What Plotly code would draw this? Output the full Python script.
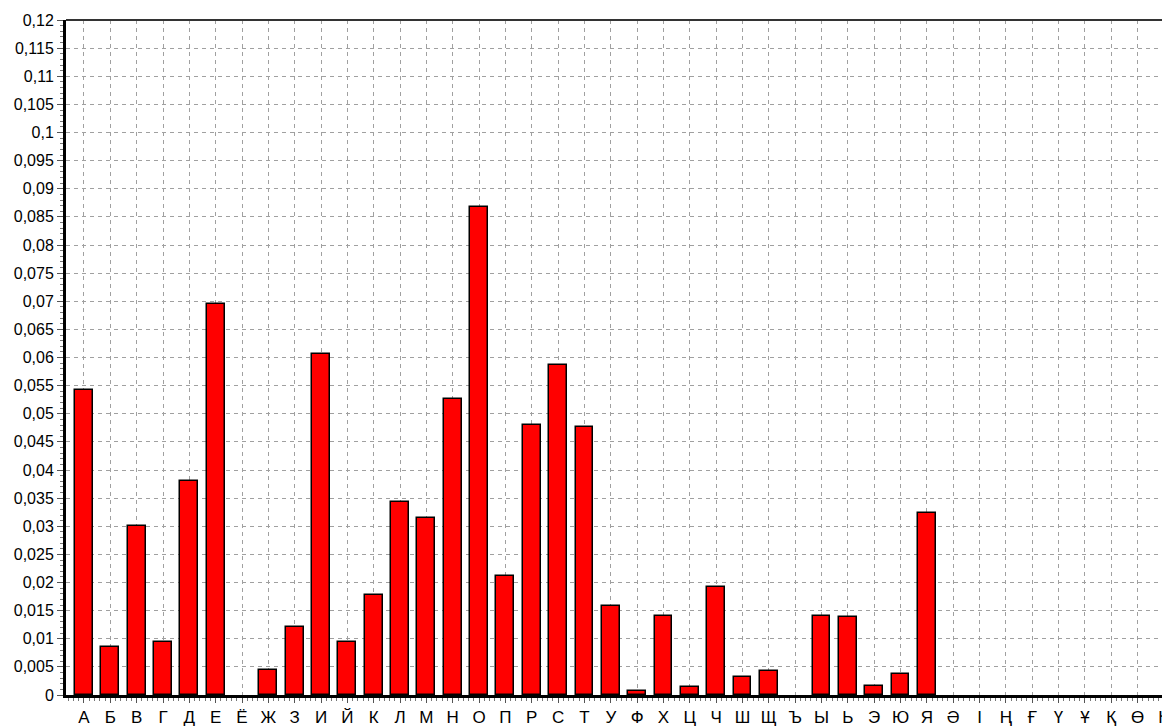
import plotly.graph_objects as go

letters = ["А", "Б", "В", "Г", "Д", "Е", "Ё", "Ж", "З", "И", "Й", "К", "Л", "М", "Н", "О",
           "П", "Р", "С", "Т", "У", "Ф", "Х", "Ц", "Ч", "Ш", "Щ", "Ъ", "Ы", "Ь", "Э", "Ю", "Я",
           "Ә", "І", "Ң", "Ғ", "Ү", "Ұ", "Қ", "Ө", "Һ"]
frequencies = [0.0542, 0.0085, 0.0300, 0.0094, 0.0381, 0.0695, 0.0, 0.0044, 0.0121, 0.0606,
               0.0094, 0.0177, 0.0343, 0.0314, 0.0527, 0.0868, 0.0212, 0.0480, 0.0586, 0.0477,
               0.0159, 0.0008, 0.0141, 0.0014, 0.0192, 0.0032, 0.0043, 0.0, 0.0141, 0.0138,
               0.0016, 0.0038, 0.0323, 0, 0, 0, 0, 0, 0, 0, 0, 0]
y_tick_vals = [i * 0.005 for i in range(25)]
y_tick_text = ["0", "0,005", "0,01", "0,015", "0,02", "0,025", "0,03", "0,035", "0,04",
               "0,045", "0,05", "0,055", "0,06", "0,065", "0,07", "0,075", "0,08", "0,085",
               "0,09", "0,095", "0,1", "0,105", "0,11", "0,115", "0,12"]

positions = list(range(len(letters)))
outline_widths = [1.5 if v > 0 else 0 for v in frequencies]

fig = go.Figure()
fig.add_trace(go.Bar(
    x=positions, y=frequencies, width=0.68,
    marker=dict(color="#ff0000", line=dict(color="#000000", width=outline_widths)),
    hoverinfo="skip",
))

grid_kw = dict(showgrid=True, gridcolor="#a0a0a0", gridwidth=1, griddash="4px,4px")

fig.update_layout(
    width=1162, height=719,
    margin=dict(l=58, r=0, t=12, b=32, autoexpand=False),
    paper_bgcolor="white", plot_bgcolor="white",
    font=dict(family="Liberation Sans, Arial, sans-serif", size=16, color="#000000"),
    showlegend=False,
    bargap=0,
    xaxis=dict(
        range=[-0.683, 41.23], tickmode="array", tickvals=positions, ticktext=letters,
        ticks="outside", ticklen=5, tickwidth=1, tickcolor="#555555",
        minor=dict(dtick=0.2, tick0=0, ticks="outside", ticklen=3, tickcolor="#777777", showgrid=False),
        showline=True, linecolor="#000000", linewidth=2.5, zeroline=False,
        tickfont=dict(size=17), ticklabelstandoff=0, automargin=False, **grid_kw,
    ),
    yaxis=dict(
        range=[0, 0.12], tickmode="array", tickvals=y_tick_vals, ticktext=y_tick_text,
        ticks="outside", ticklen=6, tickwidth=1, tickcolor="#555555",
        minor=dict(dtick=0.001, tick0=0, ticks="outside", ticklen=3, tickcolor="#777777", showgrid=False),
        showline=True, linecolor="#000000", linewidth=3, zeroline=False,
        tickfont=dict(size=16), automargin=False, **grid_kw,
    ),
)
fig.add_shape(type="line", xref="paper", yref="paper", x0=0, x1=1, y0=1, y1=1,
              line=dict(color="#333333", width=2))

fig.write_html("out.html")
